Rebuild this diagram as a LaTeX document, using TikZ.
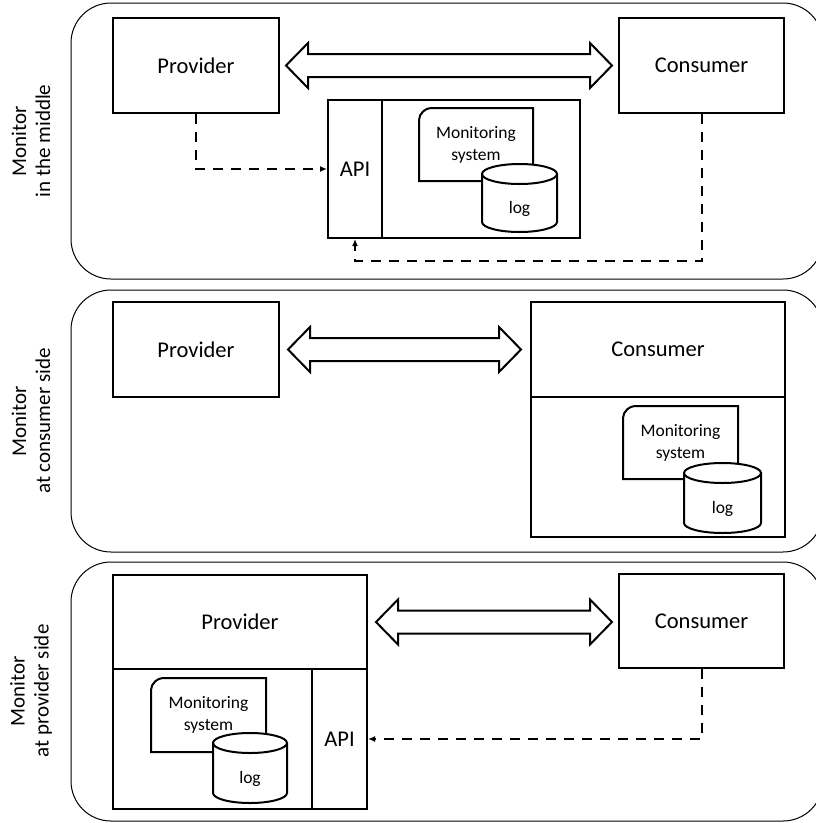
\documentclass[tikz,border=0pt]{standalone}
\usepackage{fontspec}
\setmainfont{Carlito}
\usetikzlibrary{calc,arrows.meta}
\tikzset{
  panel/.style={draw, line width=1pt, rounded corners=40pt},
  bx/.style={draw, line width=2pt, rectangle, inner sep=0pt, font=\fontsize{22.5}{26}\selectfont},
  lbl/.style={rotate=90, align=center, font=\fontsize{21}{24}\selectfont},
  small/.style={align=center, font=\fontsize{17.5}{22}\selectfont, inner sep=0pt},
  msline/.style={draw, fill=white, line width=2pt},
  dashconn/.style={line width=2pt, dash pattern=on 10pt off 8pt, -{Latex[length=7pt,width=6pt]}},
  dblarrow/.style={draw, line width=2pt, fill=white, line join=miter}
}
\newcommand{\dblarr}[2]{\draw[dblarrow] let \p1=(#1), \p2=(#2) in (\x1,\y1) -- (\x1+22pt,\y1+22.5pt) -- (\x1+22pt,\y1+11.5pt) -- (\x2-22pt,\y1+11.5pt) -- (\x2-22pt,\y1+22.5pt) -- (\x2,\y1) -- (\x2-22pt,\y1-22.5pt) -- (\x2-22pt,\y1-11.5pt) -- (\x1+22pt,\y1-11.5pt) -- (\x1+22pt,\y1-22.5pt) -- cycle;}
% monitoring system shape: name, x1, y1, x2, y2
\newcommand{\monsys}[5]{%
  \draw[msline] (#2,#5) -- (#2,#3+12) .. controls (#2,#3+5.4) and (#2+6.6,#3) .. (#2+12,#3) -- (#4,#3) -- (#4,#5) -- cycle;
  \node[small] (#1) at ({(#2+#4)/2},{(#3+#5)/2}) {Monitoring\\system};}
% cylinder: name, x1, x2, ytop, ybot
\newcommand{\logcyl}[5]{%
  \pgfmathsetmacro\cylcx{(#2+#3)/2}\pgfmathsetmacro\cylk{0.552*(#3-#2)/2}%
  \pgfmathsetmacro\cylyt{#4+10}\pgfmathsetmacro\cylyb{#5-10}%
  \draw[msline] (#2,\cylyt) -- (#2,\cylyb) .. controls (#2,\cylyb+5.52) and (\cylcx-\cylk,#5) .. (\cylcx,#5) .. controls (\cylcx+\cylk,#5) and (#3,\cylyb+5.52) .. (#3,\cylyb) -- (#3,\cylyt) .. controls (#3,\cylyt-5.52) and (\cylcx+\cylk,#4) .. (\cylcx,#4) .. controls (\cylcx-\cylk,#4) and (#2,\cylyt-5.52) .. (#2,\cylyt) -- cycle;
  \draw[line width=2pt] (#2,\cylyt) .. controls (#2,\cylyt+5.52) and (\cylcx-\cylk,#4+20) .. (\cylcx,#4+20) .. controls (\cylcx+\cylk,#4+20) and (#3,\cylyt+5.52) .. (#3,\cylyt);
  \node[small] (#1) at (\cylcx,{(#4+20+#5)/2+1}) {log};}
\begin{document}
\begin{tikzpicture}[x=1pt,y=-1pt]
\useasboundingbox (0,0) rectangle (816,823);
% panels
\draw[panel] (71,3) rectangle (823,279);
\draw[panel] (71,290) rectangle (823,552);
\draw[panel] (71,562) rectangle (823,821);
\node[lbl] (l1) at (31,141) {Monitor\\in the middle};
\node[lbl] (l2) at (31,421) {Monitor\\at consumer side};
\node[lbl] (l3) at (31,691) {Monitor\\at provider side};

% ---- panel 1
\node[bx, minimum width=166pt, minimum height=95pt] (prov1) at (196,65.5) {Provider};
\node[bx, minimum width=165pt, minimum height=95pt] (cons1) at (701.5,65.5) {Consumer};
\dblarr{$(prov1.east)+(6,0)$}{$(cons1.west)+(-6,0)$}
\node[bx, minimum width=54pt, minimum height=138pt] (api1) at (355,169) {API};
\node[bx, minimum width=198pt, minimum height=138pt] (host1) at (481,169) {};
\monsys{ms1}{419}{108}{533}{181}
\logcyl{log1}{482}{557}{164}{232}
\draw[dashconn] (prov1.south) |- (api1.west);
\draw[dashconn] (cons1.south) -- (cons1.south |- 0,261) -| (api1.south);

% ---- panel 2
\node[bx, minimum width=166pt, minimum height=95pt] (prov2) at (196,349.5) {Provider};
\node[bx, minimum width=254pt, minimum height=95pt] (cons2) at (658,349.5) {Consumer};
\node[bx, minimum width=254pt, minimum height=140pt] (host2) at (658,467) {};
\dblarr{$(prov2.east)+(8,0)$}{$(cons2.west)+(-9,0)$}
\monsys{ms2}{623}{406}{738}{479}
\logcyl{log2}{684}{761}{463}{533}

% ---- panel 3
\node[bx, minimum width=254pt, minimum height=94pt] (prov3) at (240,622) {Provider};
\node[bx, minimum width=199pt, minimum height=140pt] (host3) at (212.5,739) {};
\node[bx, minimum width=55pt, minimum height=140pt] (api3) at (339.5,739) {API};
\node[bx, minimum width=165pt, minimum height=94pt] (cons3) at (701.5,621) {Consumer};
\dblarr{$(prov3.east)+(8,0)$}{$(cons3.west)+(-6,0)$}
\monsys{ms3}{151}{678}{266}{752}
\logcyl{log3}{213}{287}{733}{803}
\draw[dashconn] (cons3.south) |- (api3.east);
\end{tikzpicture}
\end{document}
